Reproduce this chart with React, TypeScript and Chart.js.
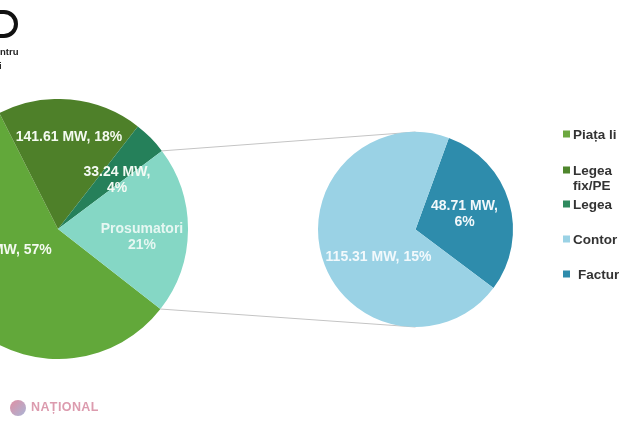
import React, { useEffect, useRef } from "react";
import { Chart, registerables } from "chart.js";

Chart.register(...registerables);

const mainCategories = ["Piața liberă", "Legea 1", "Legea 2", "Prosumatori"];
const mainValues = [449.13, 141.61, 33.24, 164.02];
const mainColors = ["#62A83A", "#4E8029", "#25805A", "#85D7C5"];
const mainLabels = [["449.13 MW, 57%"], ["141.61 MW, 18%"], ["33.24 MW,", "4%"], ["Prosumatori", "21%"]];
const subCategories = ["Facturare", "Contorizare"];
const subValues = [48.71, 115.31];
const subColors = ["#2E8CAC", "#9AD2E5"];
const subLabels = [["48.71 MW,", "6%"], ["115.31 MW, 15%"]];
const legendRows = [
  { lines: ["Piața li"], color: "#6CA840" },
  { lines: ["Legea", "fix/PE"], color: "#4F862C" },
  { lines: ["Legea"], color: "#2F8A5F" },
  { lines: ["Contor"], color: "#9AD2E5" },
  { lines: ["Factur"], color: "#2E8CAC" },
];
const legendY = [134, 170, 204, 239, 274];
const legendTextX = [573, 573, 573, 573, 578];

const FONT = '"Liberation Sans", Arial, sans-serif';
const MAIN_SIZE = 260;
const MAIN_LEFT = -72;
const MAIN_TOP = 99;
const mainLabelAt = [[-59.5, 21], [11, -92], [59, -57], [84, 0]];
const subLabelAt = [[49, -23.5], [-37, 27.5]];

function drawLabels(chart: any, labels: string[][], at: number[][], colors: string[]) {
  const ctx = chart.ctx;
  const arc0 = chart.getDatasetMeta(0).data[0];
  ctx.save();
  ctx.font = `bold 14px ${FONT}`;
  ctx.textAlign = "center";
  ctx.textBaseline = "middle";
  labels.forEach((lines, i) => {
    ctx.fillStyle = colors[i];
    lines.forEach((line, j) => {
      ctx.fillText(line, arc0.x + at[i][0], arc0.y + at[i][1] + j * 16.5);
    });
  });
  ctx.restore();
}

export default function App() {
  const leftRef = useRef<HTMLCanvasElement>(null);
  const rightRef = useRef<HTMLCanvasElement>(null);

  useEffect(() => {
    document.body.style.margin = "0";
    document.body.style.overflow = "hidden";
    const left = new Chart(leftRef.current!, {
      type: "pie",
      data: {
        labels: mainCategories,
        datasets: [{ data: mainValues, backgroundColor: mainColors, borderWidth: 0 }],
      },
      options: {
        animation: false,
        responsive: false,
        rotation: 128,
        layout: { padding: 0 },
        plugins: { legend: { display: false }, tooltip: { enabled: false } },
      },
      plugins: [
        {
          id: "mainLabels",
          afterDatasetsDraw: (c: any) =>
            drawLabels(c, mainLabels, mainLabelAt, ["#F4FAF0", "#F4FAF0", "#F4FAF4", "#E6F7F2"]),
        },
      ],
    });

    const overlay = {
      id: "overlay",
      beforeDatasetsDraw(c: any) {
        const ctx = c.ctx;
        const src = left.getDatasetMeta(0).data[3] as any;
        const dst = c.getDatasetMeta(0).data[0] as any;
        const ends = [src.startAngle, src.endAngle];
        ctx.save();
        ctx.strokeStyle = "#C4C4C4";
        ctx.lineWidth = 1;
        ends.forEach((a: number, i: number) => {
          const x = MAIN_LEFT + src.x + Math.cos(a) * src.outerRadius;
          const y = MAIN_TOP + src.y + Math.sin(a) * src.outerRadius;
          ctx.beginPath();
          ctx.moveTo(x, y);
          ctx.lineTo(dst.x, dst.y + (i === 0 ? -1 : 1) * dst.outerRadius);
          ctx.stroke();
        });
        ctx.restore();
      },
      afterDatasetsDraw(c: any) {
        drawLabels(c, subLabels, subLabelAt, ["#F2F8FB", "#F2F9FC"]);
        const ctx = c.ctx;
        ctx.save();
        ctx.textBaseline = "middle";
        ctx.textAlign = "left";
        legendRows.forEach((row, i) => {
          ctx.fillStyle = row.color;
          ctx.fillRect(563, legendY[i] - 3.5, 7, 7);
          ctx.font = `bold 13.5px ${FONT}`;
          ctx.fillStyle = "#333333";
          row.lines.forEach((t, j) => ctx.fillText(t, legendTextX[i], legendY[i] + 1 + j * 15));
        });
        // logo remnant
        ctx.strokeStyle = "#111111";
        ctx.lineWidth = 4;
        ctx.beginPath();
        ctx.moveTo(-2, 12);
        ctx.lineTo(4, 12);
        ctx.arc(4, 24, 12, -Math.PI / 2, Math.PI / 2);
        ctx.lineTo(-2, 36);
        ctx.stroke();
        ctx.fillStyle = "#222222";
        ctx.font = `bold 9.5px ${FONT}`;
        ctx.fillText("ntru", 0, 52);
        ctx.fillText("i", -1, 66);
        // watermark
        const g = ctx.createLinearGradient(10, 400, 26, 416);
        g.addColorStop(0, "#E08FA3");
        g.addColorStop(1, "#A9B5D6");
        ctx.fillStyle = g;
        ctx.beginPath();
        ctx.arc(18, 408, 8, 0, Math.PI * 2);
        ctx.fill();
        ctx.fillStyle = "#DC9BAE";
        ctx.font = `bold 12.5px ${FONT}`;
        (ctx as any).letterSpacing = "0.4px";
        ctx.fillText("NAȚIONAL", 31, 408);
        ctx.restore();
      },
    };

    const right = new Chart(rightRef.current!, {
      type: "pie",
      data: {
        labels: subCategories,
        datasets: [{ data: subValues, backgroundColor: subColors, borderWidth: 0 }],
      },
      options: {
        animation: false,
        responsive: false,
        rotation: 20,
        layout: { padding: { left: 318, right: 106, top: 132, bottom: 94 } },
        plugins: { legend: { display: false }, tooltip: { enabled: false } },
      },
      plugins: [overlay],
    });
    return () => {
      right.destroy();
      left.destroy();
    };
  }, []);

  return (
    <div
      style={{
        position: "relative",
        width: 619,
        height: 421,
        overflow: "hidden",
        background: "#fff",
        filter: "blur(0.4px)",
      }}
    >
      <canvas
        ref={leftRef}
        width={MAIN_SIZE}
        height={MAIN_SIZE}
        style={{ position: "absolute", left: MAIN_LEFT, top: MAIN_TOP, width: MAIN_SIZE, height: MAIN_SIZE }}
      />
      <canvas
        ref={rightRef}
        width={619}
        height={421}
        style={{ position: "absolute", left: 0, top: 0, width: 619, height: 421 }}
      />
    </div>
  );
}
